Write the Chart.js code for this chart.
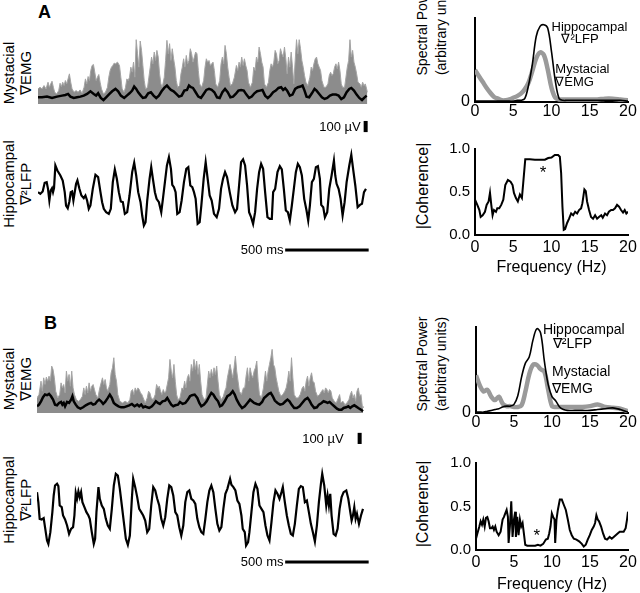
<!DOCTYPE html>
<html>
<head>
<meta charset="utf-8">
<script src="https://cdn.jsdelivr.net/npm/chart.js@4.4.1/dist/chart.umd.min.js"></script>
<style>
  html, body { margin: 0; padding: 0; background: #fff; }
  #figure { position: relative; width: 640px; height: 593px; overflow: hidden;
            font-family: "Liberation Sans", Arial, sans-serif; color: #000; }
  #figure canvas { position: absolute; }
  .letter { position: absolute; font-weight: bold; font-size: 18px; line-height: 1; }
  .rot { position: absolute; transform: translate(-50%, -50%) rotate(-90deg);
         white-space: nowrap; text-align: center; }
  .trace-label { font-size: 15px; line-height: 17px; }
  .axis-label { font-size: 14px; line-height: 19px; }
  .coh-label { font-size: 16px; line-height: 18px; }
</style>
</head>
<body>
<div id="figure">
  <div class="letter" style="left:38px; top:3px;">A</div>
  <div class="letter" style="left:44px; top:314px;">B</div>

  <div class="rot trace-label" style="left:17px; top:73px;">Mystacial<br>∇EMG</div>
  <div class="rot trace-label" style="left:17px; top:184px;">Hippocampal<br>∇²LFP</div>
  <div class="rot trace-label" style="left:17px; top:379px;">Mystacial<br>∇EMG</div>
  <div class="rot trace-label" style="left:17px; top:500px;">Hippocampal<br>∇²LFP</div>

  <div class="rot axis-label" style="left:432px; top:28px;">Spectral Power<br>(arbitrary units)</div>
  <div class="rot axis-label" style="left:432px; top:364px;">Spectral Power<br>(arbitrary units)</div>
  <div class="rot coh-label" style="left:423px; top:186px;">|Coherence|</div>
  <div class="rot coh-label" style="left:423px; top:504px;">|Coherence|</div>

  <canvas id="emg-a" width="334" height="67" style="left:38px; top:37px;"></canvas>
  <canvas id="lfp-a" width="334" height="151" style="left:38px; top:112px;"></canvas>
  <canvas id="emg-b" width="334" height="67" style="left:37px; top:346px;"></canvas>
  <canvas id="lfp-b" width="334" height="151" style="left:37px; top:431px;"></canvas>

  <canvas id="spec-a" width="240" height="125" style="left:400px; top:0px;"></canvas>
  <canvas id="coh-a" width="240" height="150" style="left:400px; top:130px;"></canvas>
  <canvas id="spec-b" width="240" height="130" style="left:400px; top:305px;"></canvas>
  <canvas id="coh-b" width="240" height="153" style="left:400px; top:444px;"></canvas>
</div>

<script>
// ---- A: rectified EMG envelope (ms, µV)
const emgTimeA = [0,12,24,36,48,60,68,76,84,92,100,112,124,132,140,148,156,164,172,180,
  188,196,204,216,228,240,252,264,276,284,292,300,308,316,324,332,340,348,356,364,
  372,380,392,404,416,424,432,440,448,456,464,476,488,496,504,516,524,532,540,548,
  556,564,572,580,588,596,604,612,620,628,636,644,656,664,672,680,688,696,704,712,
  720,728,736,744,756,764,772,780,788,796,804,812,820,828,836,848,856,864,872,880,
  888,896,904,912,920,928,936,944,952,960,968,980,992,1000,1008,1016,1024,1032,1040,1048,
  1056,1064,1076,1088,1096,1104,1112,1120,1128,1136,1144,1152,1164,1176,1188,1196,1204,1212,1220,1228,
  1236,1244,1252,1260,1272,1284,1292,1300,1308,1316,1324,1332,1340,1348,1356,1368,1380,1388,1396,1404,
  1412,1420,1428,1436,1444,1452,1460,1468,1476,1484,1492,1500,1508,1516,1524,1532,1540,1548,1556,1564,
  1572,1580,1588,1596,1604,1616,1628,1636,1644,1652,1660,1668,1676,1684,1692,1700,1712,1724,1736,1744,
  1752,1760,1768,1776,1784,1792,1800,1808,1816,1824,1836,1844,1852,1860,1868,1876,1884,1892,1900,1908,
  1916,1928,1936,1944,1952,1960,1968,1972];
const emgRawA = [135,150,135,165,135,195,150,180,204,150,105,90,120,186,156,195,165,210,180,225,
  270,195,135,105,120,105,126,96,150,225,180,246,210,300,345,354,285,210,240,264,
  195,135,90,105,150,240,300,330,345,366,360,375,345,240,135,105,150,225,210,240,
  330,285,375,240,576,450,330,564,480,345,210,135,150,240,330,420,360,465,390,480,
  420,270,180,150,240,390,570,450,540,390,495,405,330,210,150,165,270,330,405,330,
  435,360,390,495,450,375,420,465,450,300,180,150,210,330,405,375,390,345,360,375,
  300,180,150,210,360,420,360,525,450,330,240,165,180,240,345,300,375,330,420,345,
  405,345,300,195,150,195,330,300,420,375,510,450,375,330,180,150,195,300,360,330,
  375,480,450,360,390,495,450,420,510,405,270,420,330,465,330,180,390,576,450,576,
  495,390,330,255,195,165,240,330,300,360,405,420,360,330,300,210,150,150,180,255,
  285,255,270,330,360,315,375,300,180,150,150,240,330,390,576,420,480,375,330,270,
  195,180,150,195,165,180,135,105];
const emgSmoothTimeA = [0,24,54,84,114,144,164,180,194,214,234,254,274,294,314,334,348,360,376,392,
  408,428,444,464,480,496,516,532,548,564,576,588,600,616,628,644,660,676,692,708,
  724,740,756,772,784,796,812,828,844,860,876,892,904,916,928,944,960,976,992,1008,
  1024,1040,1056,1072,1088,1104,1120,1136,1152,1168,1184,1200,1216,1232,1248,1264,1280,1296,1312,1328,
  1344,1360,1376,1392,1408,1424,1440,1456,1468,1480,1492,1508,1524,1540,1556,1572,1584,1596,1608,1624,
  1640,1656,1668,1684,1700,1716,1732,1748,1764,1784,1800,1816,1832,1848,1864,1876,1892,1908,1924,1940,
  1956,1968];
const emgSmoothA = [60,60,66,54,66,75,81,90,66,54,60,66,75,90,114,90,75,96,54,36,
  60,90,114,135,114,75,54,75,96,120,156,135,105,75,54,60,96,105,75,54,
  75,114,144,165,144,126,114,90,66,75,120,126,165,150,144,105,66,54,90,126,
  135,126,105,60,54,105,135,105,60,66,90,120,126,120,84,54,66,96,114,120,
  126,75,54,75,105,120,144,150,126,141,120,75,84,135,150,156,165,120,66,60,
  96,135,120,90,60,45,54,75,84,84,75,45,60,105,135,144,120,84,54,36,
  60,75];

// ---- A: hippocampal LFP (ms, µV)
const lfpTimeA = [0,14,28,40,52,60,68,76,84,90,96,104,116,134,148,160,168,178,188,196,
  204,212,220,228,236,248,260,274,284,294,304,314,328,344,360,374,384,394,408,424,
  436,448,460,472,484,496,508,520,534,548,564,576,588,600,614,624,634,644,654,668,
  678,688,700,710,724,738,748,760,772,784,796,804,814,824,834,848,860,874,888,900,
  912,924,934,944,956,968,978,992,1004,1016,1028,1040,1054,1070,1084,1096,1108,1120,1132,1148,
  1164,1180,1192,1204,1216,1228,1240,1252,1264,1276,1288,1300,1312,1324,1336,1348,1360,1374,1388,1400,
  1408,1420,1434,1448,1460,1472,1484,1496,1508,1520,1532,1544,1556,1568,1580,1594,1608,1618,1628,1640,
  1652,1664,1676,1688,1696,1708,1718,1732,1744,1758,1772,1780,1788,1800,1812,1824,1836,1848,1864,1876,
  1888,1900,1914,1928,1940,1952,1964];
const lfpA = [-15,-30,-9,69,75,15,-90,0,21,-15,21,225,180,135,90,-15,-135,-159,-99,-15,
  -9,-90,-15,60,90,15,-45,-69,-45,-90,-165,-135,15,141,120,-15,-105,-165,-195,-210,
  -165,75,189,105,-15,-99,-105,-210,-195,-45,165,249,135,-15,-105,-225,-315,-285,-90,105,
  210,105,-15,-75,-105,-195,-75,75,225,300,195,51,30,-15,-210,-195,-90,75,195,210,
  45,30,-15,-75,-300,-285,-135,105,255,105,-45,-90,-210,-240,-165,15,105,165,120,-15,
  -135,-195,-165,45,255,279,225,45,-195,-240,-300,-195,15,165,240,195,-15,-240,-255,-255,
  -15,15,165,219,189,15,-180,-195,-270,-135,15,165,240,210,135,-75,-180,-270,-135,75,
  105,210,219,105,-129,-150,-240,-195,15,135,270,135,60,15,-75,-225,-105,75,225,321,
  180,45,-150,-129,-120,-15,15];

// ---- B: rectified EMG envelope (ms, µV)
const emgTimeB = [0,12,24,32,40,48,56,64,72,80,88,96,104,112,124,136,144,152,160,168,
  176,184,192,200,208,216,224,236,248,260,272,280,288,296,304,312,320,328,336,344,
  352,364,376,384,392,400,408,416,424,436,444,452,460,468,476,484,496,512,528,544,
  556,564,572,580,588,596,604,612,620,628,636,648,660,668,676,684,696,708,716,724,
  732,740,748,756,764,772,780,788,796,804,812,820,828,836,844,856,868,876,884,892,
  900,908,916,924,932,940,948,956,964,972,980,988,1000,1012,1020,1028,1036,1044,1052,1060,
  1068,1076,1084,1092,1104,1116,1124,1132,1140,1148,1156,1164,1172,1180,1188,1196,1204,1212,1224,1236,
  1244,1252,1260,1268,1276,1284,1292,1300,1308,1316,1324,1332,1344,1356,1368,1376,1384,1392,1400,1408,
  1416,1424,1432,1440,1448,1460,1472,1484,1492,1500,1508,1516,1524,1532,1540,1552,1564,1576,1588,1596,
  1604,1612,1620,1628,1636,1644,1652,1660,1668,1680,1692,1704,1712,1720,1728,1736,1744,1752,1760,1768,
  1780,1792,1804,1812,1820,1832,1844,1856,1868,1876,1884,1892,1900,1908,1916,1924,1932,1940,1948,1952];
const emgRawB = [135,165,285,195,315,255,321,285,330,285,420,390,315,195,135,165,270,225,255,180,
  375,285,345,240,375,225,165,120,105,120,150,225,165,240,180,270,195,240,255,210,
  165,135,225,270,315,255,300,225,195,255,360,405,495,345,285,165,105,90,105,90,
  120,195,210,165,225,195,225,210,180,165,135,90,135,195,180,135,120,165,255,225,
  240,195,165,210,180,195,255,315,480,375,315,435,285,165,120,135,225,210,285,225,
  315,345,285,435,375,480,390,465,345,435,285,165,120,135,255,375,315,390,330,405,
  345,420,285,165,120,150,195,225,315,375,435,375,315,405,510,375,285,195,165,225,
  225,330,405,285,405,345,315,375,405,465,285,165,135,225,375,285,375,435,495,570,
  435,405,315,255,195,150,165,195,225,285,375,285,495,315,165,135,135,165,225,240,
  195,285,330,240,315,360,285,270,195,150,165,195,210,180,225,210,180,210,195,135,
  105,90,135,165,90,105,75,90,120,165,195,135,165,105,195,225,150,165,60,45];
const emgSmoothTimeB = [0,12,24,36,48,60,72,84,96,108,120,132,144,152,160,168,180,192,204,212,
  220,232,244,260,276,292,308,324,336,348,360,372,384,396,408,424,436,448,460,472,
  488,504,520,536,552,568,584,600,612,624,636,648,660,672,688,700,712,724,736,752,
  768,780,792,804,816,828,844,856,872,888,904,916,928,944,960,972,984,1000,1016,1032,
  1044,1056,1068,1084,1096,1108,1124,1140,1156,1172,1184,1196,1212,1228,1244,1260,1276,1288,1300,1316,
  1332,1348,1360,1372,1388,1400,1412,1424,1440,1456,1472,1488,1500,1512,1524,1540,1556,1572,1588,1604,
  1620,1632,1644,1660,1676,1688,1704,1716,1728,1740,1752,1764,1780,1796,1808,1824,1836,1852,1864,1876,
  1888,1900,1912,1924,1940,1952];
const emgSmoothB = [60,75,105,141,165,159,171,150,120,75,69,90,99,75,90,60,99,90,120,150,
  105,75,51,39,51,69,81,90,75,81,105,120,105,81,99,135,165,135,90,75,
  60,51,51,60,69,81,60,75,60,75,51,60,51,45,60,81,105,90,81,105,
  111,135,105,75,60,69,75,99,81,90,120,150,159,165,135,90,60,75,105,150,
  180,165,135,105,60,69,105,150,165,195,165,120,75,45,60,90,120,105,90,81,
  75,99,135,150,171,180,150,111,90,75,81,105,120,105,75,45,45,60,90,120,
  135,111,75,45,51,75,90,105,99,90,99,81,60,39,30,30,45,51,60,45,
  60,69,57,45,30,15];

// ---- B: hippocampal LFP (ms, µV)
const lfpTimeB = [0,8,16,28,40,48,60,68,80,92,100,108,120,128,136,148,156,168,180,192,
  204,216,224,232,240,248,256,264,272,284,296,308,316,328,340,348,356,368,376,388,
  400,412,424,436,448,460,472,484,496,508,520,532,544,556,568,576,588,600,612,624,
  636,648,660,672,684,696,708,720,732,744,756,768,780,792,804,816,828,840,852,864,
  876,888,900,912,924,936,948,960,972,984,996,1008,1020,1032,1044,1056,1068,1080,1092,1104,
  1116,1128,1140,1148,1156,1164,1176,1188,1200,1212,1224,1232,1244,1252,1264,1272,1284,1296,1308,1320,
  1332,1344,1356,1368,1380,1392,1404,1416,1428,1440,1452,1464,1472,1484,1496,1508,1520,1532,1544,1556,
  1568,1580,1592,1604,1616,1628,1640,1652,1664,1676,1688,1700,1708,1720,1732,1740,1748,1756,1764,1776,
  1788,1800,1812,1824,1836,1852,1864,1876,1884,1892,1900,1908,1916,1928,1940,1952];
const lfpB = [156,66,-84,-90,-78,-159,-279,-309,-204,-24,126,216,231,210,36,21,-54,-90,-144,-219,
  -174,-159,-54,150,96,162,111,156,66,21,-24,-54,-84,-204,-309,-264,-24,201,96,36,
  6,-84,-144,-174,6,216,321,306,186,36,-114,-264,-318,-234,96,276,201,111,6,-24,
  -54,-99,-204,-174,36,201,171,96,36,-84,-144,-69,96,216,201,126,-24,-54,-159,-234,
  -144,66,156,171,96,81,51,-84,-159,-204,-219,-84,66,171,216,156,6,-129,-189,-159,
  6,141,186,231,276,222,201,171,81,51,-54,-174,-204,-324,-294,-204,-24,156,231,186,
  36,6,-24,-144,-234,-279,-114,66,171,141,96,156,201,66,-54,-144,-219,-234,-129,36,
  186,210,201,66,81,-24,-129,-204,-288,-144,66,231,321,216,36,126,36,141,-54,-219,
  -234,-174,6,111,156,171,96,-24,-99,-54,21,-84,-39,-129,-54,6];

// ---- spectra (Hz, arbitrary units)
const specFreq = [0,0.5,1,1.5,2,2.5,3,3.5,4,4.5,5,5.5,6,6.5,7,7.5,8,8.5,9,9.5,10,10.5,11,11.5,12,
  13,14,15,16,17,18,19,20];
const specLfpA = [0.01,0.01,0.01,0.01,0.01,0.01,0.01,0.01,0.01,0.01,0.01,0.02,
  0.02,0.04,0.2,0.45,0.78,0.9,0.92,0.88,0.6,0.25,0.04,0.02,0.02,
  0.02,0.02,0.02,0.02,0.02,0.02,0.02,0.01];
const specEmgA = [0.38,0.31,0.24,0.17,0.11,0.06,0.04,0.02,0.02,0.03,0.05,0.07,
  0.1,0.15,0.23,0.37,0.52,0.59,0.56,0.39,0.17,0.05,0.03,0.03,0.03,
  0.03,0.03,0.03,0.03,0.04,0.04,0.03,0.02];
const specLfpB = [0.01,0.01,0.01,0.02,0.03,0.04,0.05,0.07,0.08,0.08,0.1,0.2,
  0.42,0.58,0.65,0.85,0.98,0.93,0.6,0.33,0.19,0.14,0.07,0.04,0.03,
  0.03,0.03,0.03,0.04,0.05,0.06,0.04,0.01];
const specEmgB = [0.44,0.32,0.25,0.27,0.19,0.15,0.19,0.11,0.08,0.08,0.07,0.07,
  0.09,0.25,0.45,0.56,0.56,0.51,0.48,0.27,0.08,0.07,0.07,0.07,0.07,
  0.07,0.07,0.08,0.1,0.07,0.06,0.05,0.02];

// ---- coherence (Hz, |C|)
const cohFreqA = [0,0.3,0.57,0.74,1.0,1.3,1.52,1.78,1.96,2.13,2.3,2.48,2.74,2.91,3.17,3.43,3.7,3.96,4.3,4.65,
  4.91,5.09,5.35,5.6,5.87,6.13,6.3,6.57,7.17,7.83,8.48,9.13,9.57,10.0,10.43,10.87,11.09,11.26,11.43,11.6,
  11.78,12.04,12.3,12.57,12.83,13.09,13.35,13.6,13.87,14.04,14.3,14.48,14.65,14.91,15.17,15.43,15.7,15.96,16.2,16.5,
  16.7,17.0,17.26,17.5,17.8,18.04,18.3,18.57,18.83,19.09,19.35,19.57,19.78,20];
const cohA = [0.41,0.35,0.29,0.21,0.23,0.27,0.35,0.39,0.49,0.35,0.23,0.29,0.27,0.31,0.31,0.35,0.41,0.58,0.64,0.62,
  0.58,0.49,0.43,0.39,0.47,0.43,0.6,0.88,0.88,0.875,0.875,0.875,0.895,0.9,0.93,0.93,0.91,0.72,0.33,0.06,
  0.07,0.14,0.19,0.25,0.23,0.27,0.25,0.29,0.31,0.37,0.53,0.51,0.39,0.29,0.21,0.19,0.23,0.19,0.21,0.23,
  0.2,0.25,0.23,0.27,0.29,0.29,0.31,0.35,0.33,0.29,0.26,0.29,0.25,0.27];
const cohFreqB = [0,0.18,0.44,0.61,0.79,0.96,1.14,1.31,1.49,1.66,1.84,2.01,2.19,2.36,2.54,2.71,2.98,3.24,3.5,3.68,
  3.85,4.03,4.2,4.29,4.46,4.64,4.81,4.99,5.16,5.25,5.43,5.6,5.78,5.95,6.13,6.3,6.48,6.74,7.09,7.44,
  7.79,8.14,8.49,8.84,9.19,9.45,9.63,9.8,9.98,10.15,10.33,10.42,10.59,10.77,11.03,11.29,11.55,11.82,12.08,12.34,
  12.6,12.87,13.22,13.57,13.92,14.18,14.44,14.7,14.97,15.23,15.49,15.67,15.84,16.02,16.19,16.46,16.72,16.98,17.24,17.59,
  17.86,18.12,18.38,18.64,18.91,19.17,19.43,19.69,19.87,20];
const cohB = [0.13,0.19,0.27,0.33,0.29,0.35,0.27,0.37,0.38,0.33,0.25,0.25,0.27,0.23,0.27,0.21,0.17,0.21,0.35,0.38,
  0.42,0.46,0.38,0.08,0.27,0.56,0.15,0.35,0.44,0.15,0.38,0.17,0.35,0.27,0.31,0.19,0.06,0.05,0.05,0.05,
  0.05,0.06,0.05,0.07,0.12,0.13,0.19,0.27,0.42,0.38,0.35,0.08,0.35,0.46,0.58,0.58,0.52,0.46,0.35,0.23,
  0.17,0.13,0.12,0.1,0.07,0.04,0.06,0.12,0.17,0.23,0.27,0.31,0.4,0.35,0.33,0.27,0.19,0.13,0.12,0.15,
  0.13,0.15,0.17,0.19,0.21,0.21,0.21,0.25,0.35,0.44];

const FONT = '"Liberation Sans", Arial, sans-serif';
const EMG_GRAY = '#8c8c8c';
const SPEC_GRAY = '#9a9a9a';

Chart.defaults.font.family = FONT;
Chart.defaults.color = '#000';

function pairs(xs, ys) {
    const n = Math.min(xs.length, ys.length);
    return xs.slice(0, n).map((x, i) => ({ x: x, y: ys[i] }));
}

// labels and scale bars placed in data units of the chart
function notesPlugin(items) {
    return {
        id: 'notes',
        afterDatasetsDraw(chart) {
            const ctx = chart.ctx;
            const xs = chart.scales.x;
            const ys = chart.scales.y;
            ctx.save();
            ctx.fillStyle = '#000';
            items.forEach(item => {
                if (item.text) {
                    ctx.font = item.font;
                    ctx.textAlign = item.align || 'left';
                    ctx.textBaseline = 'middle';
                    ctx.fillText(item.text, xs.getPixelForValue(item.x), ys.getPixelForValue(item.y));
                } else if (item.bar === 'v') {
                    const x = xs.getPixelForValue(item.x);
                    const y0 = ys.getPixelForValue(item.y0);
                    const y1 = ys.getPixelForValue(item.y1);
                    ctx.fillRect(x - item.w / 2, Math.min(y0, y1), item.w, Math.abs(y1 - y0));
                } else if (item.bar === 'h') {
                    const y = ys.getPixelForValue(item.y);
                    const x0 = xs.getPixelForValue(item.x0);
                    const x1 = xs.getPixelForValue(item.x1);
                    ctx.fillRect(x0, y - item.w / 2, x1 - x0, item.w);
                }
            });
            ctx.restore();
        }
    };
}

function traceChart(id, datasets, yMin, yMax, padding, notes) {
    return new Chart(document.getElementById(id), {
        type: 'line',
        data: { datasets: datasets },
        options: {
            responsive: false,
            animation: false,
            events: [],
            layout: { padding: padding },
            plugins: { legend: { display: false }, tooltip: { enabled: false } },
            elements: { point: { radius: 0 }, line: { tension: 0 } },
            scales: {
                x: { type: 'linear', display: false, min: 0, max: 2000 },
                y: { display: false, min: yMin, max: yMax }
            }
        },
        plugins: [notesPlugin(notes || [])]
    });
}

function freqChart(id, datasets, o) {
    return new Chart(document.getElementById(id), {
        type: 'line',
        data: { datasets: datasets },
        options: {
            responsive: false,
            animation: false,
            events: [],
            layout: { padding: { top: o.top, right: 12, left: 0, bottom: 0 } },
            plugins: { legend: { display: false }, tooltip: { enabled: false } },
            elements: { point: { radius: 0 } },
            scales: {
                x: {
                    type: 'linear', min: 0, max: 20,
                    ticks: { stepSize: 5, autoSkip: false, maxRotation: 0, padding: o.xPad, font: { size: 16 } },
                    grid: { display: false, drawTicks: false },
                    border: { display: true, color: '#000', width: 2 },
                    title: { display: !!o.xTitle, text: o.xTitle || '', font: { size: 16 }, padding: { top: 0, bottom: 3 } },
                    afterFit: s => { s.height = o.xHeight; s.paddingLeft = 0; s.paddingRight = 0; }
                },
                y: {
                    min: 0, max: 1,
                    ticks: { stepSize: o.yStep, padding: 5, font: { size: o.yFont }, callback: o.yTick },
                    grid: { display: false, drawTicks: false },
                    border: { display: true, color: '#000', width: 2 },
                    afterFit: s => { s.width = o.yWidth; s.paddingTop = 0; s.paddingBottom = 0; }
                }
            }
        },
        plugins: [notesPlugin(o.notes || [])]
    });
}

function emgDatasets(rawT, raw, smoothT, smooth) {
    return [
        { data: pairs(smoothT, smooth), borderColor: '#000', borderWidth: 2.5 },
        { data: pairs(rawT, raw), borderColor: '#a4a4a4', borderWidth: 1,
          backgroundColor: EMG_GRAY, fill: 'origin' }
    ];
}

function specDatasets(lfp, emg) {
    return [
        { data: pairs(specFreq, lfp), borderColor: '#000', borderWidth: 1.6, tension: 0.35 },
        { data: pairs(specFreq, emg), borderColor: SPEC_GRAY, borderWidth: 4.5, tension: 0.35 }
    ];
}

const spectrumTick = v => (v === 0 ? '0' : '');
const coherenceTick = v => v.toFixed(1);

document.addEventListener('DOMContentLoaded', () => {
    // traces, panel A
    traceChart('emg-a', emgDatasets(emgTimeA, emgRawA, emgSmoothTimeA, emgSmoothA), 0, 600,
        { top: 0, bottom: 0 });
    traceChart('lfp-a', [{ data: pairs(lfpTimeA, lfpA), borderColor: '#000', borderWidth: 2.2 }],
        -400, 400, { top: 34, bottom: 28 }, [
            { text: '100 µV', x: 1932, y: 571, align: 'right', font: '13px ' + FONT },
            { bar: 'v', x: 1962, y0: 525, y1: 625, w: 4 },
            { text: '500 ms', x: 1470, y: -535, align: 'right', font: '13px ' + FONT },
            { bar: 'h', x0: 1480, x1: 1980, y: -535, w: 3 }
        ]);

    // traces, panel B
    traceChart('emg-b', emgDatasets(emgTimeB, emgRawB, emgSmoothTimeB, emgSmoothB), 0, 600,
        { top: 0, bottom: 0 });
    traceChart('lfp-b', [{ data: pairs(lfpTimeB, lfpB), borderColor: '#000', borderWidth: 2.2 }],
        -400, 400, { top: 34, bottom: 28 }, [
            { text: '100 µV', x: 1836, y: 634, align: 'right', font: '13px ' + FONT },
            { bar: 'v', x: 1932, y0: 589, y1: 689, w: 4 },
            { text: '500 ms', x: 1476, y: -472, align: 'right', font: '13px ' + FONT },
            { bar: 'h', x0: 1486, x1: 1986, y: -472, w: 3 }
        ]);

    // spectra
    freqChart('spec-a', specDatasets(specLfpA, specEmgA), {
        top: 18, xHeight: 23, xPad: 0, yWidth: 75, yStep: 1, yFont: 16, yTick: spectrumTick,
        notes: [
            { text: 'Hippocampal', x: 10.0, y: 0.89, font: '13px ' + FONT },
            { text: '∇²LFP', x: 11.3, y: 0.75, font: '13px ' + FONT },
            { text: 'Mystacial', x: 10.5, y: 0.39, font: '13px ' + FONT },
            { text: '∇EMG', x: 10.5, y: 0.23, font: '13px ' + FONT }
        ]
    });
    freqChart('spec-b', specDatasets(specLfpB, specEmgB), {
        top: 22, xHeight: 22, xPad: 0, yWidth: 76, yStep: 1, yFont: 16, yTick: spectrumTick,
        notes: [
            { text: 'Hippocampal', x: 8.8, y: 0.965, font: '14px ' + FONT },
            { text: '∇²LFP', x: 10.1, y: 0.8, font: '14px ' + FONT },
            { text: 'Mystacial', x: 10.0, y: 0.48, font: '14px ' + FONT },
            { text: '∇EMG', x: 10.0, y: 0.28, font: '14px ' + FONT }
        ]
    });

    // coherence
    freqChart('coh-a', [{ data: pairs(cohFreqA, cohA), borderColor: '#000', borderWidth: 2 }], {
        top: 19, xHeight: 45, xPad: 3, yWidth: 75, yStep: 0.5, yFont: 15, yTick: coherenceTick,
        xTitle: 'Frequency (Hz)',
        notes: [{ text: '*', x: 8.9, y: 0.72, align: 'center', font: '17px ' + FONT }]
    });
    freqChart('coh-b', [{ data: pairs(cohFreqB, cohB), borderColor: '#000', borderWidth: 2 }], {
        top: 19, xHeight: 47, xPad: 3, yWidth: 76, yStep: 0.5, yFont: 15, yTick: coherenceTick,
        xTitle: 'Frequency (Hz)',
        notes: [{ text: '*', x: 8.0, y: 0.16, align: 'center', font: '17px ' + FONT }]
    });
});
</script>
</body>
</html>
